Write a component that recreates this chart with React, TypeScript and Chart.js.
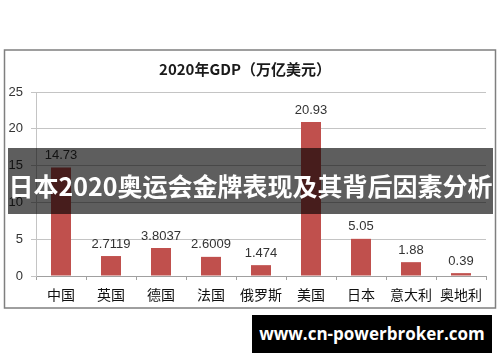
import React, { useEffect, useRef } from "react";
import { Chart, registerables } from "chart.js";

Chart.register(...registerables);

const titleText = "2020年GDP（万亿美元）";
const countries = ["中国", "英国", "德国", "法国", "俄罗斯", "美国", "日本", "意大利", "奥地利"];
const gdpValues = [14.73, 2.7119, 3.8037, 2.6009, 1.474, 20.93, 5.05, 1.88, 0.39];
const yTicks = [0, 5, 10, 15, 20, 25];
const bannerText = "日本2020奥运会金牌表现及其背后因素分析";
const watermarkText = "www.cn-powerbroker.com";

const framePlugin = {
  id: "frame",
  beforeDraw(chart: any) {
    const ctx = chart.ctx;
    ctx.save();
    ctx.fillStyle = "#ffffff";
    ctx.fillRect(0, 0, chart.width, chart.height);
    ctx.strokeStyle = "#7f7f7f";
    ctx.lineWidth = 1.5;
    ctx.strokeRect(4.5, 50, 491, 258);
    ctx.restore();
  },
};

const valueLabelPlugin = {
  id: "valueLabels",
  afterDatasetsDraw(chart: any) {
    const ctx = chart.ctx;
    const meta = chart.getDatasetMeta(0);
    const data = chart.data.datasets[0].data as number[];
    ctx.save();
    ctx.font = "13px 'Liberation Sans', Arial, sans-serif";
    ctx.fillStyle = "#333333";
    ctx.textAlign = "center";
    ctx.textBaseline = "middle";
    meta.data.forEach((el: any, i: number) => {
      ctx.fillText(String(data[i]), el.x, el.y - 12);
    });
    ctx.restore();
  },
};

export default function App() {
  const ref = useRef<HTMLCanvasElement | null>(null);

  useEffect(() => {
    if (!ref.current) return;
    const chart = new Chart(ref.current, {
      type: "bar",
      data: {
        labels: countries,
        datasets: [
          {
            data: gdpValues,
            backgroundColor: "#C0504D",
            categoryPercentage: 0.8,
            barPercentage: 0.5,
          },
        ],
      },
      options: {
        responsive: false,
        animation: false,
        layout: { padding: { left: 4, right: 14, top: 50, bottom: 54 } },
        plugins: {
          legend: { display: false },
          tooltip: { enabled: false },
          title: {
            display: true,
            text: titleText,
            color: "#1a1a1a",
            font: { family: "'Noto Sans CJK SC', sans-serif", size: 15, weight: "bold" },
            padding: { top: 10, bottom: 14 },
          },
        },
        scales: {
          x: {
            afterFit(scale: any) {
              scale.height = 32;
            },
            grid: {
              drawOnChartArea: false,
              drawTicks: true,
              tickLength: 4,
              offset: true,
              color: "#a0a0a0",
            },
            border: { display: true, color: "#a0a0a0" },
            ticks: {
              color: "#111111",
              padding: 6,
              font: { family: "'Noto Sans CJK SC', sans-serif", size: 14 },
            },
          },
          y: {
            min: 0,
            max: 25,
            afterFit(scale: any) {
              scale.width = 32;
            },
            afterBuildTicks(scale: any) {
              scale.ticks = yTicks.map((v) => ({ value: v }));
            },
            grid: { color: "#c4c4c4", drawTicks: true, tickLength: 5 },
            border: { display: true, color: "#c4c4c4" },
            ticks: {
              color: "#333333",
              padding: 8,
              font: { family: "'Liberation Sans', Arial, sans-serif", size: 13 },
            },
          },
        },
      },
      plugins: [framePlugin, valueLabelPlugin],
    });
    return () => chart.destroy();
  }, []);

  return (
    <div style={{ position: "absolute", left: 0, top: 0, width: 500, height: 362, background: "#fff" }}>
      <canvas ref={ref} width={500} height={362} style={{ display: "block" }} />
      <div
        style={{
          position: "absolute",
          left: 8,
          top: 148,
          width: 485,
          height: 66,
          background: "rgba(0,0,0,0.63)",
          display: "flex",
          justifyContent: "center",
        }}
      >
        <div
          style={{
            marginTop: 20,
            color: "#ffffff",
            fontFamily: "'Noto Sans CJK SC', sans-serif",
            fontWeight: "bold",
            fontSize: 25,
            lineHeight: "34px",
            whiteSpace: "nowrap",
            flexShrink: 0,
          }}
        >
          {bannerText}
        </div>
      </div>
      <div
        style={{
          position: "absolute",
          left: 252,
          top: 315,
          width: 240,
          height: 38,
          background: "#000000",
          color: "#ffffff",
          fontFamily: "'Open Sans', sans-serif",
          fontWeight: "bold",
          fontSize: 17,
          lineHeight: "38px",
          textAlign: "center",
          whiteSpace: "nowrap",
        }}
      >
        {watermarkText}
      </div>
    </div>
  );
}
